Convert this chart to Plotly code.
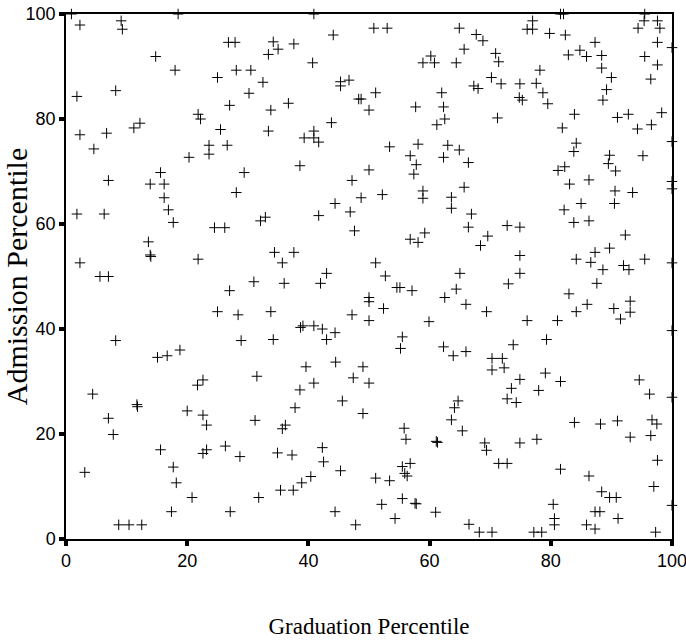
import plotly.graph_objects as go

pts = [
(0.9,100),(2.3,97.9),(9.1,98.7),(9.3,97.1),(18.5,100),(26.8,94.6),(27.9,94.6),(14.8,91.9),(18.0,89.3),(25.0,87.9),(28.1,89.3),(30.5,89.3),(32.5,87.0),(1.8,84.3),(8.2,85.4),(30.2,84.9),(27.0,82.6),(21.8,80.9),(22.2,80.0),(2.3,77.0),(6.7,77.3),(11.2,78.3),(12.2,79.2),(25.5,78.0),(4.6,74.3),(23.6,75.0),(23.6,73.3),(26.6,75.0),(20.3,72.7),(15.6,69.8),(29.4,69.8),
(7.0,68.3),(13.9,67.6),(16.2,67.6),(28.1,66.0),(16.2,65.0),(16.9,62.7),(17.7,60.3),(1.8,61.9),(6.3,61.9),(24.5,59.3),(26.2,59.3),(32.1,60.6),(32.9,61.3),(13.6,56.6),(13.9,54.1),(14.0,53.8),(21.8,53.3),(2.3,52.6),(5.6,50.0),(7.0,50.0),(27.0,47.3),(31.0,49.0),(25.0,43.3),(28.4,42.7),(8.2,37.8),(28.9,37.8),
(18.8,36.0),(15.1,34.6),(16.7,34.9),(22.6,30.3),(21.7,29.3),(31.5,31.0),(4.4,27.6),(11.7,25.6),(11.8,25.2),(7.0,23.0),(7.8,19.9),(20.0,24.4),(22.6,23.6),(23.2,21.7),(31.2,22.6),(15.6,17.0),(22.6,16.3),(23.2,17.0),(26.3,17.7),(28.7,15.7),(3.1,12.7),(17.7,13.7),(18.2,10.7),(20.8,7.9),(31.8,7.9),
(17.4,5.2),(27.1,5.2),(8.7,2.7),(10.4,2.7),(12.5,2.7),(44.4,5.2),(47.8,2.7),
(52.1,6.6),(54.3,3.9),(57.6,6.8),(57.8,6.7),(61.0,5.1),(66.5,2.8),(68.2,1.3),(70.3,1.3),(77.2,1.3),(78.5,1.3),(80.4,6.6),(80.6,3.9),(80.6,2.7),(85.9,2.7),(87.3,1.9),(87.3,5.2),(88.1,5.2),(91.1,3.9),(97.3,1.3),(100,6.4),
(55.2,36.3),(63.9,34.9),(66.0,35.7),(39.6,32.8),(44.5,33.7),(49.0,32.8),(40.9,29.7),(47.4,30.7),(50.0,29.7),(38.6,28.4),(45.6,26.3),(37.8,25.0),(49.0,23.9),(64.7,26.3),(64.1,25.0),(63.6,22.7),(65.4,20.6),(36.2,21.7),(35.7,21.0),(55.8,21.1),(56.1,19.0),(61.1,18.6),(61.3,18.4),(34.9,16.4),(37.3,16.0),(42.3,17.4),(42.5,14.7),(40.4,11.9),(45.3,13.0),(38.9,10.7),(35.4,9.3),(37.5,9.3),(51.1,11.6),(53.4,11.1),(55.5,13.8),(56.8,14.4),(55.9,12.5),(56.3,12.0),(55.5,7.7),
(70.3,34.4),(72.0,34.4),(70.3,32.2),(72.3,32.6),(74.9,30.4),(79.1,31.6),(73.5,28.7),(78.0,28.3),(81.6,30.0),(72.8,26.7),(74.3,26.0),(94.6,30.3),(96.3,27.6),(100,27.0),(83.9,22.2),(88.2,21.9),(91.0,22.5),(96.7,22.7),(97.5,21.9),(93.1,19.4),(96.5,19.7),(69.1,18.3),(69.4,16.9),(74.9,18.3),(77.7,19.0),(71.4,14.4),(72.8,14.4),(81.6,13.3),(86.3,12.0),(97.6,15.0),(97.0,10.0),(88.4,9.0),(89.7,7.9),(90.8,7.9),
(40.9,100),(50.8,97.3),(53.0,97.3),(64.9,97.3),(44.1,96.0),(34.2,94.7),(35.0,93.3),(33.4,92.3),(37.6,94.3),(40.7,90.7),(60.2,92.0),(58.9,90.7),(60.8,90.7),(65.7,93.3),(64.4,90.7),(45.3,87.1),(45.3,86.3),(46.7,87.4),(51.1,85.0),(48.3,83.8),(48.7,83.8),(62.0,85.0),(33.8,81.7),(36.7,83.0),(50.0,81.7),(57.7,82.3),(62.3,82.3),(62.5,80.0),(61.2,78.9),(33.4,77.7),(43.8,79.3),(40.9,77.7),(39.3,76.4),(40.9,76.4),(41.7,75.6),(53.4,74.7),(58.1,75.2),(56.8,73.0),(57.8,71.3),(57.4,69.5),(63.0,75.0),(64.9,74.1),(62.3,72.7),(66.4,71.7),(38.6,71.1),(50.0,70.3),
(47.2,68.3),(58.9,66.3),(58.9,64.9),(65.7,67.0),(63.6,65.1),(63.6,63.0),(44.4,63.9),(48.7,65.0),(52.2,65.6),(46.9,62.3),(41.7,61.6),(66.9,61.9),(66.4,59.4),(47.6,58.7),(59.2,58.3),(56.8,57.1),(58.1,56.5),(34.4,54.6),(37.6,54.6),(35.7,52.6),(43.0,50.6),(51.1,52.6),(36.0,48.7),(42.0,48.7),(52.7,50.1),(54.6,47.9),(55.1,47.9),(57.1,47.3),(65.0,50.6),(64.4,47.6),(62.5,46.0),(66.0,44.7),(50.0,46.0),(50.0,45.2),(52.4,43.9),(33.8,43.3),(47.2,42.7),(50.0,41.6),(59.9,41.4),(38.7,40.3),(39.1,40.6),(40.9,40.6),(42.3,40.0),(43.0,38.0),(44.4,39.3),(34.2,38.0),(55.5,38.5),(62.3,36.6),
(77.0,98.7),(76.1,97.1),(77.0,97.1),(81.6,100),(82.1,100),(79.8,96.3),(82.4,96.0),(67.7,96.1),(68.8,94.9),(95.5,100),(95.4,98.7),(94.4,97.3),(97.6,98.7),(98.0,97.3),(87.3,94.6),(97.6,94.6),(100,93.6),(70.9,92.5),(71.4,90.9),(82.9,92.2),(84.8,93.1),(85.9,91.9),(88.4,92.1),(88.4,89.7),(95.5,91.9),(97.6,90.3),(78.2,89.3),(70.2,87.9),(71.8,86.7),(67.3,86.3),(68.0,85.8),(74.9,86.7),(77.6,86.8),(78.7,85.0),(74.8,84.1),(75.3,83.6),(79.5,82.9),(90.0,87.9),(89.2,85.6),(88.6,83.6),(96.5,87.6),(83.9,80.9),(71.2,80.2),(91.0,80.3),(92.8,80.9),(98.3,81.2),(96.6,78.9),(94.3,78.1),(81.9,78.3),(100,75.7),(84.2,75.4),(83.8,73.8),(89.7,73.1),(89.5,71.5),(90.7,70.1),(95.2,73.0),(81.2,70.2),(82.3,70.9),
(83.1,67.6),(86.3,68.4),(100,68.1),(100,66.7),(90.6,66.3),(93.5,66.0),(85.0,63.9),(90.5,63.9),(82.2,62.7),(83.8,60.3),(86.3,60.6),(72.8,59.7),(74.9,59.4),(69.6,57.7),(68.4,55.9),(92.3,57.9),(74.9,54.0),(74.9,50.6),(73.0,48.6),(84.2,53.3),(87.3,54.6),(89.7,55.4),(86.6,52.7),(88.6,51.3),(92.0,52.1),(92.9,51.3),(95.5,53.3),(100,52.6),(87.6,48.7),(83.0,46.7),(69.4,43.3),(76.1,41.6),(81.1,41.6),(84.2,43.3),(86.0,44.7),(90.4,43.9),(91.5,41.9),(93.1,43.2),(93.1,45.3),(100,39.7),(79.3,38.0),(73.8,37.0),
]
graduation_pct = [p[0] for p in pts]
admission_pct = [p[1] for p in pts]
tick_vals = [0, 20, 40, 60, 80, 100]

fig = go.Figure(go.Scatter(
    x=graduation_pct, y=admission_pct, mode="markers",
    marker=dict(symbol="cross-thin", size=7.5, line=dict(width=1, color="black"), color="black"),
    cliponaxis=False, showlegend=False,
))

tickfont = dict(family="Liberation Sans, Arial, sans-serif", size=18, color="black")
axis_common = dict(range=[0, 100], showline=True, linecolor="black", linewidth=1.5, mirror=True,
                   ticks="outside", ticklen=5, tickwidth=4, tickcolor="black",
                   tickvals=tick_vals, showgrid=False, zeroline=False, tickfont=tickfont,
                   ticklabeloverflow="allow", automargin=False)

fig.update_layout(
    width=686, height=640,
    margin=dict(l=66, r=14, t=14, b=101),
    paper_bgcolor="white", plot_bgcolor="white",
    xaxis=dict(**axis_common, title=dict(text="Graduation Percentile",
               font=dict(family="Liberation Serif, Times New Roman, serif", size=23, color="black"), standoff=48)),
    yaxis=dict(**axis_common, title=dict(text="Admission Percentile",
               font=dict(family="Liberation Serif, Times New Roman, serif", size=30, color="black"), standoff=6)),
)
fig.write_html("out.html")
